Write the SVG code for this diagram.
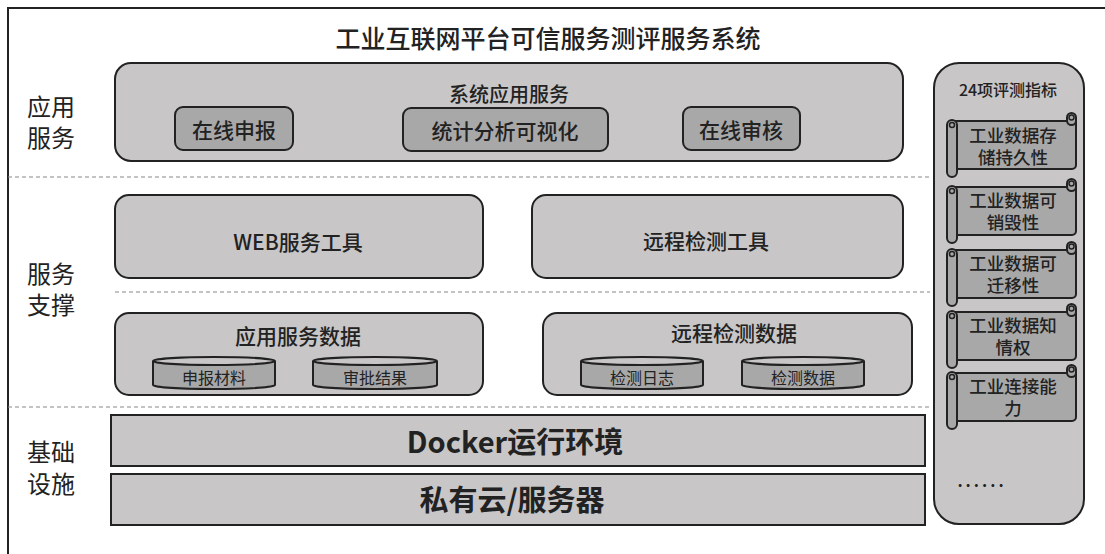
<svg xmlns="http://www.w3.org/2000/svg" width="1105" height="554" viewBox="0 0 1105 554">
<style>
text{font-family:"Noto Sans CJK SC","Noto Sans",sans-serif;fill:#222;text-anchor:middle;dominant-baseline:central}
.box{fill:#c8c6c7;stroke:#222;stroke-width:2}
.inner{fill:#a9a8a9;stroke:#222;stroke-width:2}
.dash{stroke:#888;stroke-width:1.2;stroke-dasharray:4 3;fill:none}
.lbl{font-size:24px;text-anchor:start}
.t21{font-size:21px;font-weight:500}
.t16{font-size:16px}
.t18{font-size:17.5px;font-weight:500}
.big{font-size:29px;font-weight:bold}
</style>
<rect width="1105" height="554" fill="#fff"/>
<path d="M8 560 V8 H1110" fill="none" stroke="#222" stroke-width="2"/>
<text x="548" y="37" style="font-size:25px;font-weight:500">工业互联网平台可信服务测评服务系统</text>

<g id="layers">
<path class="dash" d="M8 177 H930"/>
<path class="dash" d="M115 292 H930"/>
<path class="dash" d="M8 407 H930"/>
<text class="lbl" x="27" y="105">应用</text>
<text class="lbl" x="27" y="136">服务</text>
<text class="lbl" x="27" y="272">服务</text>
<text class="lbl" x="27" y="303">支撑</text>
<text class="lbl" x="27" y="450">基础</text>
<text class="lbl" x="27" y="482">设施</text>
</g>

<g id="app-service">
<rect class="box" x="115" y="63" width="788" height="98" rx="16"/>
<text x="509" y="93" style="font-size:20px;font-weight:500">系统应用服务</text>
<rect class="inner" x="175" y="107" width="118" height="43" rx="8"/>
<text class="t21" x="234" y="129">在线申报</text>
<rect class="inner" x="403" y="108" width="205" height="43" rx="8"/>
<text class="t21" x="505" y="130">统计分析可视化</text>
<rect class="inner" x="683" y="107" width="117" height="43" rx="8"/>
<text class="t21" x="741" y="129">在线审核</text>
</g>

<g id="web-tool">
<rect class="box" x="115" y="195" width="368" height="83" rx="14"/>
<text class="t21" x="298" y="241">WEB服务工具</text>
</g>
<g id="remote-tool">
<rect class="box" x="532" y="195" width="371" height="83" rx="14"/>
<text class="t21" x="706" y="240">远程检测工具</text>
</g>

<g id="app-data">
<rect class="box" x="115" y="313" width="368" height="82" rx="14"/>
<text class="t21" x="298" y="335">应用服务数据</text>
<g id="cyl1">
<path class="inner" d="M153 361 V385 A61 4 0 0 0 275 385 V361"/>
<ellipse class="box" cx="214" cy="361" rx="61" ry="4"/>
<text class="t16" x="214" y="377">申报材料</text>
</g>
<g id="cyl2">
<path class="inner" d="M313 361 V385 A62 4 0 0 0 437 385 V361"/>
<ellipse class="box" cx="375" cy="361" rx="62" ry="4"/>
<text class="t16" x="375" y="377">审批结果</text>
</g>
</g>

<g id="remote-data">
<rect class="box" x="543" y="313" width="369" height="82" rx="14"/>
<text class="t21" x="734" y="332">远程检测数据</text>
<g id="cyl3">
<path class="inner" d="M581 361 V385 A61 4 0 0 0 703 385 V361"/>
<ellipse class="box" cx="642" cy="361" rx="61" ry="4"/>
<text class="t16" x="642" y="377">检测日志</text>
</g>
<g id="cyl4">
<path class="inner" d="M742 361 V385 A61 4 0 0 0 864 385 V361"/>
<ellipse class="box" cx="803" cy="361" rx="61" ry="4"/>
<text class="t16" x="803" y="377">检测数据</text>
</g>
</g>

<g id="docker">
<rect class="box" x="111" y="415" width="814" height="51"/>
<text class="big" x="515" y="440">Docker运行环境</text>
</g>
<g id="cloud">
<rect class="box" x="111" y="474" width="814" height="51"/>
<text class="big" x="512" y="498">私有云/服务器</text>
</g>

<g id="indicators">
<rect class="box" x="934" y="63" width="150" height="461" rx="25"/>
<text x="1008" y="89" style="font-size:16px;font-weight:500">24项评测指标</text>
<text x="982" y="480" style="font-size:16px;letter-spacing:3px;font-weight:bold">......</text>
</g>

<defs>
<g id="scroll">
<path class="inner" d="M955 0 H1076 V44 A4 4 0 0 1 1072 48 H955 Z"/>
<rect class="inner" x="1067" y="-8" width="9" height="12" rx="4.5"/>
<circle cx="1071.5" cy="-3.5" r="2.5" fill="none" stroke="#222" stroke-width="1.5"/>
<rect class="inner" x="947" y="-1" width="10" height="57" rx="5"/>
<circle cx="952" cy="4" r="2.5" fill="none" stroke="#222" stroke-width="1.5"/>
</g>
</defs>
<g id="ind1">
<use href="#scroll" transform="translate(0,121)"/>
<text class="t18" x="1013" y="134">工业数据存<tspan x="1013" dy="22">储持久性</tspan></text>
</g>
<g id="ind2">
<use href="#scroll" transform="translate(0,187)"/>
<text class="t18" x="1013" y="199">工业数据可<tspan x="1013" dy="22">销毁性</tspan></text>
</g>
<g id="ind3">
<use href="#scroll" transform="translate(0,250)"/>
<text class="t18" x="1013" y="262">工业数据可<tspan x="1013" dy="22">迁移性</tspan></text>
</g>
<g id="ind4">
<use href="#scroll" transform="translate(0,312)"/>
<text class="t18" x="1013" y="324">工业数据知<tspan x="1013" dy="22">情权</tspan></text>
</g>
<g id="ind5">
<use href="#scroll" transform="translate(0,373)"/>
<text class="t18" x="1013" y="385">工业连接能<tspan x="1013" dy="22">力</tspan></text>
</g>
<g id="connectors"></g>
</svg>
